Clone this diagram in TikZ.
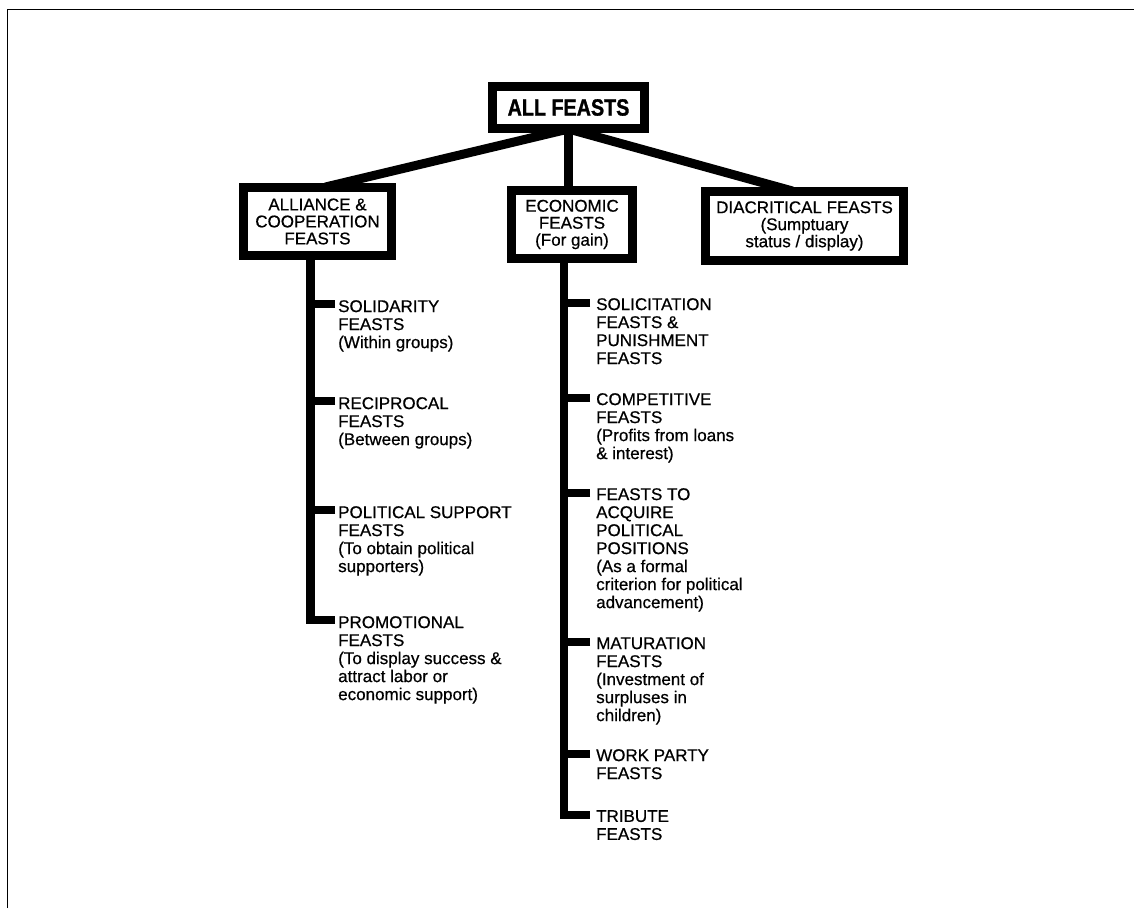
\documentclass[tikz,border=0pt]{standalone}
\usepackage{fontspec}
\setmainfont{Liberation Sans}
\newfontfamily\headfont[FakeStretch=0.84,FakeBold=1.2]{Liberation Sans}
\newfontfamily\itemfont[FakeBold=0.6]{Liberation Sans}
\begin{document}
\begin{tikzpicture}[x=1pt,y=-1pt,
  box/.style={draw,line width=9pt,align=center,inner sep=0pt,
    font=\itemfont\fontsize{17}{17}\selectfont},
  item/.style={anchor=north west,align=left,inner sep=0pt,
    font=\itemfont\fontsize{17}{18}\selectfont},
  conn/.style={line width=9pt},
  stub/.style={line width=8.5pt}]
  \useasboundingbox (0,0) rectangle (1134,908);
  \draw[line width=1pt] (7,908) -- (7,9) -- (1134,9);
  % boxes
  \node[box,minimum width=152pt,minimum height=42pt,
    font=\headfont\bfseries\fontsize{23.5}{24}\selectfont] (all) at (568.5,107.5) {ALL FEASTS};
  \node[box,minimum width=148pt,minimum height=68pt] (ally) at (317.5,221.5)
    {ALLIANCE \&\\COOPERATION\\FEASTS};
  \node[box,minimum width=121pt,minimum height=68pt] (econ) at (572,224.5)
    {ECONOMIC\\FEASTS\\(For gain)};
  \node[box,minimum width=198pt,minimum height=69pt] (diac) at (804.5,226)
    {DIACRITICAL FEASTS\\(Sumptuary\\status / display)};
  \draw[conn] ([yshift=4pt]all.south) -- ([xshift=8pt,yshift=-4pt]ally.north);
  \draw[conn] ([yshift=4pt]all.south) -- ([yshift=-4pt]all.south |- econ.north);
  \draw[conn] ([yshift=4pt]all.south) -- ([xshift=-12pt,yshift=-4pt]diac.north);
  % alliance feasts
  \node[item] (sol) at (338,300) {SOLIDARITY\\FEASTS\\(Within groups)};
  \node[item] (rec) at (338,397) {RECIPROCAL\\FEASTS\\(Between groups)};
  \node[item] (pol) at (338,506) {POLITICAL SUPPORT\\FEASTS\\(To obtain political\\supporters)};
  \node[item] (pro) at (338,616) {PROMOTIONAL\\FEASTS\\(To display success \&\\attract labor or\\economic support)};
  \coordinate (ta) at ([xshift=-7pt,yshift=3pt]ally.south);
  \draw[stub] (ta) |- ([shift={(-3pt,-4pt)}]pro.north west);
  \foreach \n in {sol,rec,pol}
    \draw[stub] ([shift={(-3pt,-4pt)}]\n.north west) coordinate (s) -- (s -| ta);
  % economic feasts
  \node[item] (soc) at (596,298) {SOLICITATION\\FEASTS \&\\PUNISHMENT\\FEASTS};
  \node[item] (com) at (596,393) {COMPETITIVE\\FEASTS\\(Profits from loans\\\& interest)};
  \node[item] (acq) at (596,488) {FEASTS TO\\ACQUIRE\\POLITICAL\\POSITIONS\\(As a formal\\criterion for political\\advancement)};
  \node[item] (mat) at (596,637) {MATURATION\\FEASTS\\(Investment of\\surpluses in\\children)};
  \node[item] (wrk) at (596,749) {WORK PARTY\\FEASTS};
  \node[item] (tri) at (596,810) {TRIBUTE\\FEASTS};
  \coordinate (tb) at ([xshift=-8pt,yshift=3pt]econ.south);
  \draw[stub] (tb) |- ([shift={(-6pt,-5pt)}]tri.north west);
  \foreach \n in {soc,com,acq,mat,wrk}
    \draw[stub] ([shift={(-6pt,-5pt)}]\n.north west) coordinate (s) -- (s -| tb);
\end{tikzpicture}
\end{document}
